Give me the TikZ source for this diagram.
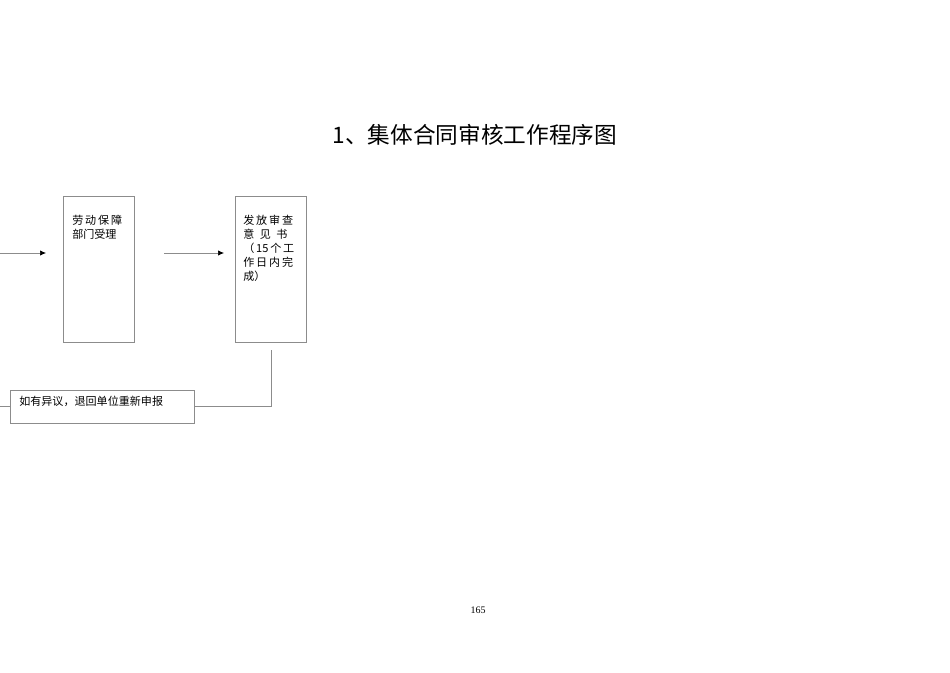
\documentclass[tikz,border=0pt]{standalone}
\usepackage{fontspec}
\usetikzlibrary{arrows.meta}
\newfontfamily\cjk{Noto Sans CJK SC}
\setmainfont{Liberation Serif}
\begin{document}
\begin{tikzpicture}[x=0.75pt,y=-0.75pt,
  box/.style={draw=black!45,line width=0.5pt},
  conn/.style={draw=black!45,line width=0.5pt},
  arr/.style={conn,-{Latex[length=4.5pt,width=4pt,color=black]}},
  txt/.style={font=\cjk\fontsize{8.3}{10.5}\selectfont,anchor=north west,inner sep=0pt,align=left}]
\useasboundingbox (0,0) rectangle (950,672);
\node[font=\cjk\fontsize{17}{20}\selectfont] (title) at (475,135) {1、集体合同审核工作程序图};
\node[box,minimum width=53.25pt,minimum height=109.5pt,anchor=north west,inner sep=0pt] (b1) at (63,196) {};
\node[box,minimum width=53.25pt,minimum height=109.5pt,anchor=north west,inner sep=0pt] (b2) at (235,196) {};
\node[box,minimum width=138pt,minimum height=24.75pt,anchor=north west,inner sep=0pt] (b3) at (10,390) {};
\node[txt] (t1) at (72,215) {劳\,动\,保\,障\\部门受理};
\node[txt] (t2) at (243,215) {发\,放\,审\,查\\意\enspace 见\enspace 书\\（\,15\,个\,工\\作\,日\,内\,完\\成）};
\node[txt] (t3) at (19,396) {如有异议，退回单位重新申报};
\coordinate (s1) at (0,253);
\coordinate (e1) at (46,253);
\coordinate (s2) at (164,253);
\coordinate (e2) at (224,253);
\coordinate (d0) at (271,350);
\coordinate (d1) at (271,406);
\coordinate (l0) at (0,406);
\draw[arr] (s1) -- (e1);
\draw[arr] (s2) -- (e2);
\draw[conn] (d0) -- (d1) -- (b3.east |- d1);
\draw[conn] (b3.west |- l0) -- (l0);
\node[font=\fontsize{7.5}{9}\selectfont] (pg) at (478,610) {165};
\end{tikzpicture}
\end{document}
